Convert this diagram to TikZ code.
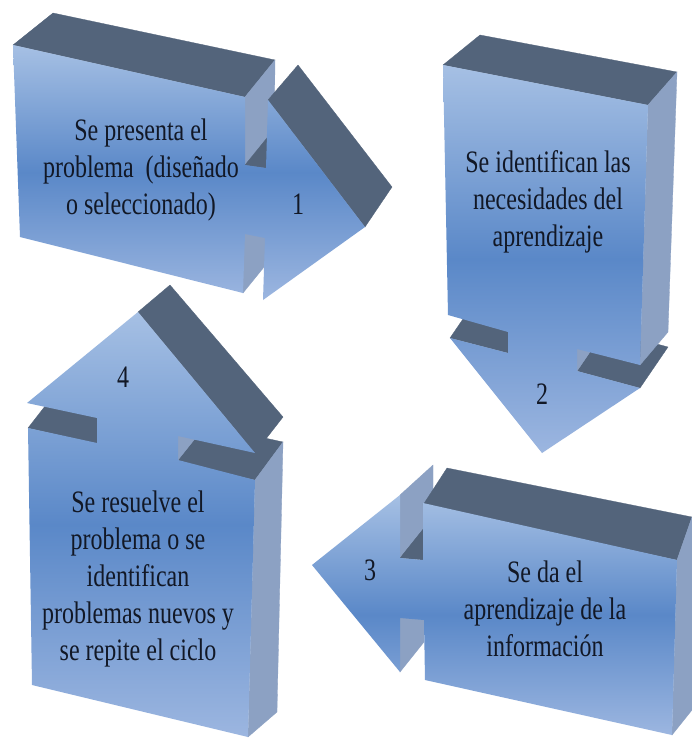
\documentclass[tikz,border=0pt]{standalone}
\usepackage{fontspec}
\usepackage{graphicx}
\setmainfont{Liberation Serif}
\definecolor{topface}{HTML}{53647B}
\definecolor{sideface}{HTML}{8CA1C3}
\definecolor{frontA}{HTML}{A6C0E4}
\definecolor{frontB}{HTML}{5A88C8}
\definecolor{frontC}{HTML}{9CB6E0}
\definecolor{txt}{HTML}{121826}
\newcommand{\tallbox}[1]{\scalebox{1}[1.3]{\fontsize{24}{28.5}\selectfont\begin{tabular}{@{}c@{}}#1\end{tabular}}}
\tikzset{
  darkface/.style={fill=topface, draw=topface, line width=0.3pt},
  lightface/.style={fill=sideface, draw=sideface, line width=0.3pt},
  frontface/.style={top color=frontA, bottom color=frontC, middle color=frontB, draw=none},
  lbl/.style={text=txt, inner sep=0pt, anchor=center}
}
\begin{document}
\begin{tikzpicture}[x=1pt,y=-1pt]
\useasboundingbox (0,0) rectangle (692,742);
\fill[white] (0,0) rectangle (692,742);

% ---------- Arrow 1 (right) ----------
\draw[darkface] (13,45) -- (53,13) -- (275,60) -- (245,97) -- cycle;
\draw[lightface] (245,97) -- (275,60) -- (273,256) -- (243,293) -- cycle;
\draw[darkface] (245,165) -- (266,168) -- (296,131) -- (275,128) -- cycle;
\draw[darkface] (268,100) -- (298,65) -- (392,187) -- (365,227) -- cycle;
\path[frontface] (13,45) -- (245,97) -- (245,165) -- (266,168) -- (268,100)
  -- (365,227) -- (263,300) -- (265,238) -- (245,234) -- (243,293) -- (20,237) -- cycle;

% ---------- Arrow 2 (down) ----------
\draw[darkface] (450,338) -- (508,353) -- (536,312) -- (478,297) -- cycle;
\draw[darkface] (577,371) -- (640,388) -- (668,347) -- (605,330) -- cycle;
\draw[lightface] (577,349) -- (577,371) -- (605,330) -- (605,308) -- cycle;
\draw[darkface] (443,65) -- (480,35) -- (677,72) -- (648,105) -- cycle;
\draw[lightface] (648,105) -- (677,72) -- (668,332) -- (640,365) -- cycle;
\path[frontface] (443,65) -- (648,105) -- (640,365) -- (577,349) -- (577,371)
  -- (640,388) -- (542,453) -- (450,338) -- (508,353) -- (508,332) -- (448,315) -- cycle;

% ---------- Arrow 3 (left) ----------
\draw[lightface] (400,495) -- (400,557) -- (433,527) -- (433,465) -- cycle;
\draw[darkface] (400,558) -- (423,560) -- (447,530) -- (424,528) -- cycle;
\draw[lightface] (400,618) -- (400,672) -- (424,642) -- (424,588) -- cycle;
\draw[darkface] (423,505) -- (447,468) -- (692,517) -- (677,560) -- cycle;
\draw[lightface] (677,560) -- (692,517) -- (692,710) -- (672,735) -- cycle;
\path[frontface] (400,495) -- (400,558) -- (423,560) -- (423,503) -- (677,560)
  -- (672,735) -- (425,680) -- (424,620) -- (400,618) -- (400,672) -- (312,565) -- cycle;

% ---------- Arrow 4 (up) ----------
\draw[darkface] (28,428) -- (56,392) -- (283,442) -- (255,480) -- cycle;
\draw[lightface] (255,480) -- (283,442) -- (277,712) -- (248,737) -- cycle;
\draw[lightface] (178,436) -- (178,460) -- (206,425) -- (206,401) -- cycle;
\draw[darkface] (138,312) -- (170,285) -- (283,417) -- (255,453) -- cycle;
\path[frontface] (27,403) -- (138,312) -- (255,453) -- (178,436) -- (178,460)
  -- (255,480) -- (248,737) -- (32,685) -- (28,428) -- (97,443) -- (97,418) -- cycle;

% ---------- Texts ----------
\node[lbl] (t1) at (141,170) {\tallbox{Se presenta el\\problema\ \ (diseñado\\o seleccionado)}};
\node[lbl] (n1) at (298,207) {\tallbox{1}};
\node[lbl] (t2) at (548,202) {\tallbox{Se identifican las\\necesidades del\\aprendizaje}};
\node[lbl] (n2) at (542,397) {\tallbox{2}};
\node[lbl] (t3) at (545,612) {\tallbox{Se da el\\aprendizaje de la\\información}};
\node[lbl] (n3) at (370,573) {\tallbox{3}};
\node[lbl] (t4) at (138,579) {\tallbox{Se resuelve el\\problema o se\\identifican\\problemas nuevos y\\se repite el ciclo}};
\node[lbl] (n4) at (123,380) {\tallbox{4}};
\end{tikzpicture}
\end{document}
